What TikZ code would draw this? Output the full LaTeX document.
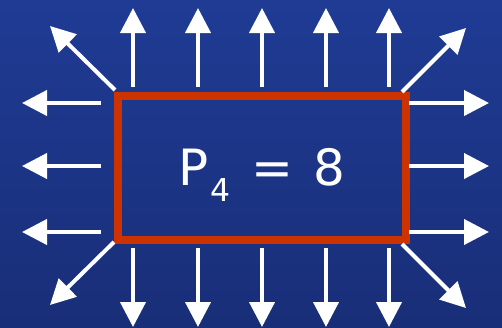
\documentclass[tikz,border=0pt]{standalone}
\usepackage{fontspec}
\setmainfont{DejaVu Sans}
\usetikzlibrary{arrows.meta}
\definecolor{bgtop}{RGB}{31,59,148}
\definecolor{bgbot}{RGB}{25,46,120}
\definecolor{boxred}{RGB}{204,51,0}
\begin{document}
\begin{tikzpicture}[x=1pt,y=-1pt,
  flux/.style={draw=white, line width=4pt, -{Triangle[length=25pt,width=25pt,fill=white]}},
  big/.style={white, inner sep=0pt, anchor=base, font=\fontsize{50}{50}\selectfont},
  small/.style={white, inner sep=0pt, anchor=base, font=\fontsize{31.5}{31.5}\selectfont}]
\shade[top color=bgtop,bottom color=bgbot] (0pt,0pt) rectangle (502pt,-327pt);
\useasboundingbox (0,0) rectangle (502,327);
\node[draw=boxred, line width=8pt, minimum width=287.5pt, minimum height=144pt, inner sep=0pt] (box) at (261.75,167.5) {};
\node[big] (p) at (194,185) {P};
\node[small] (sub) at (220.5,201) {4};
\node[big] (eq) at (272,185) {=};
\node[big] (val) at (329,185) {8};
\foreach \x [count=\i] in {133,198,262,326,389} {
  \coordinate (us\i) at (\x,87); \coordinate (ue\i) at (\x,8);
  \draw[flux] (us\i) -- (ue\i);
  \coordinate (ds\i) at (\x,248); \coordinate (de\i) at (\x,327);
  \draw[flux] (ds\i) -- (de\i);
}
\foreach \y [count=\i] in {103,166,232} {
  \coordinate (ls\i) at (101,\y); \coordinate (le\i) at (22,\y);
  \draw[flux] (ls\i) -- (le\i);
  \coordinate (rs\i) at (409,\y); \coordinate (re\i) at (489,\y);
  \draw[flux] (rs\i) -- (re\i);
}
\coordinate (tls) at (115,90);  \coordinate (tle) at (50,26);
\coordinate (trs) at (402,92);  \coordinate (tre) at (466,28);
\coordinate (bls) at (114,242); \coordinate (ble) at (50,305);
\coordinate (brs) at (402,244); \coordinate (bre) at (466,308);
\draw[flux] (tls) -- (tle);
\draw[flux] (trs) -- (tre);
\draw[flux] (bls) -- (ble);
\draw[flux] (brs) -- (bre);
\end{tikzpicture}
\end{document}
